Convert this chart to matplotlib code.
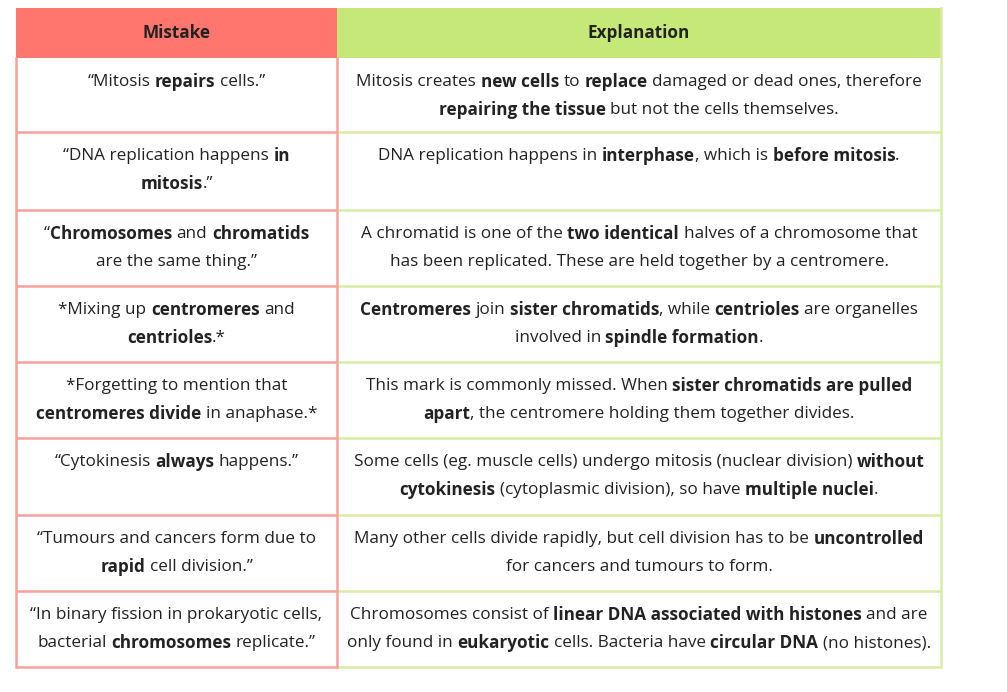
import re
import matplotlib
matplotlib.use("Agg")
from matplotlib import pyplot as plt
from matplotlib.patches import Rectangle
from matplotlib.font_manager import FontProperties, findfont, get_font

# table content, {...} marks bold runs
headers = ["Mistake", "Explanation"]

mistakes = [
    ["\u201cMitosis {repairs} cells.\u201d"],
    ["\u201cDNA replication happens {in}", "{mitosis}.\u201d"],
    ["\u201c{Chromosomes} and {chromatids}", "are the same thing.\u201d"],
    ["*Mixing up {centromeres} and", "{centrioles}.*"],
    ["*Forgetting to mention that", "{centromeres divide} in anaphase.*"],
    ["\u201cCytokinesis {always} happens.\u201d"],
    ["\u201cTumours and cancers form due to", "{rapid} cell division.\u201d"],
    ["\u201cIn binary fission in prokaryotic cells,", "bacterial {chromosomes} replicate.\u201d"],
]

explanations = [
    ["Mitosis creates {new cells} to {replace} damaged or dead ones, therefore",
     "{repairing the tissue} but not the cells themselves."],
    ["DNA replication happens in {interphase}, which is {before mitosis}."],
    ["A chromatid is one of the {two identical} halves of a chromosome that",
     "has been replicated. These are held together by a centromere."],
    ["{Centromeres} join {sister chromatids}, while {centrioles} are organelles",
     "involved in {spindle formation}."],
    ["This mark is commonly missed. When {sister chromatids are pulled}",
     "{apart}, the centromere holding them together divides."],
    ["Some cells (eg. muscle cells) undergo mitosis (nuclear division) {without}",
     "{cytokinesis} (cytoplasmic division), so have {multiple nuclei}."],
    ["Many other cells divide rapidly, but cell division has to be {uncontrolled}",
     "for cancers and tumours to form."],
    ["Chromosomes consist of {linear DNA associated with histones} and are",
     "only found in {eukaryotic} cells. Bacteria have {circular DNA} (no histones)."],
]

# layout (pixels)
W, H = 1007, 692
x_left, x_mid, x_right = 16, 337, 941
header_top, header_bot = 8, 58
row_bounds = [58, 132, 210, 286, 362, 438, 515, 591, 667]

red_head = "#FF766E"
green_head = "#C5E879"
red_line = "#F8A09B"
green_line = "#D6EDA3"
txt_col = "#222222"
FONT = "Open Sans"
FS = 12.3
DPI = 100

fig = plt.figure(figsize=(W / DPI, H / DPI), dpi=DPI)
ax = fig.add_axes([0, 0, 1, 1])
ax.set_xlim(0, W)
ax.set_ylim(H, 0)
ax.axis("off")
renderer = fig.canvas.get_renderer()


def box_width(s, wt):
    t = ax.text(0, 0, s, fontsize=FS, fontfamily=FONT, fontweight=wt)
    w = t.get_window_extent(renderer=renderer).width
    t.remove()
    return w


def left_overhang(s, wt):
    # how far the ink hangs left of the pen start (e.g. "j")
    font = get_font(findfont(FontProperties(family=FONT, weight=wt)))
    font.set_size(FS, DPI)
    font.set_text(s, 0.0)
    xo = font.get_bitmap_offset()[0] / 64
    return min(0.0, xo)


space_w = box_width("a a", "normal") - box_width("aa", "normal")


def split_runs(line):
    # (text, weight, space before)
    runs = []
    pending_gap = False
    for part in re.split(r"(\{[^}]*\})", line):
        if not part:
            continue
        if part.startswith("{"):
            s, wt = part[1:-1], "bold"
        else:
            s, wt = part, "normal"
        gap = (pending_gap or s.startswith(" ")) and bool(runs)
        runs.append((s.strip(), wt, gap))
        pending_gap = s.endswith(" ")
    return runs


def draw_line(line, xc, y):
    runs = split_runs(line)
    widths = [box_width(s, wt) for s, wt, _ in runs]
    total = sum(widths) + space_w * sum(1 for r in runs if r[2])
    x = xc - total / 2
    for (s, wt, gap), w in zip(runs, widths):
        if gap:
            x += space_w
        ax.text(x - left_overhang(s, wt), y, s, fontsize=FS, fontfamily=FONT,
                fontweight=wt, color=txt_col, va="center", ha="left")
        x += w


# header
ax.add_patch(Rectangle((x_left, header_top), x_mid - x_left, header_bot - header_top,
                       facecolor=red_head, edgecolor="none"))
ax.add_patch(Rectangle((x_mid, header_top), x_right - x_mid, header_bot - header_top,
                       facecolor=green_head, edgecolor="none"))
for h, xc in zip(headers, [(x_left + x_mid) / 2, (x_mid + x_right) / 2]):
    draw_line("{" + h + "}", xc, (header_top + header_bot) / 2)

# body rows
for i in range(len(mistakes)):
    top, bot = row_bounds[i], row_bounds[i + 1]
    for j, line in enumerate(mistakes[i]):
        draw_line(line, (x_left + x_mid) / 2, top + 24 + 28 * j)
    for j, line in enumerate(explanations[i]):
        draw_line(line, (x_mid + x_right) / 2, top + 24 + 28 * j)
    ax.plot([x_mid, x_right], [bot, bot], color=green_line, lw=1.8, solid_capstyle="butt")
    ax.plot([x_left, x_mid], [bot, bot], color=red_line, lw=1.8, solid_capstyle="butt")

# vertical borders
ax.plot([x_right, x_right], [header_top, row_bounds[-1]], color=green_line, lw=1.8)
ax.plot([x_left, x_left], [header_bot, row_bounds[-1]], color=red_line, lw=1.8)
ax.plot([x_mid, x_mid], [header_bot, row_bounds[-1]], color=red_line, lw=1.8)

fig.savefig("out.png", dpi=DPI)
